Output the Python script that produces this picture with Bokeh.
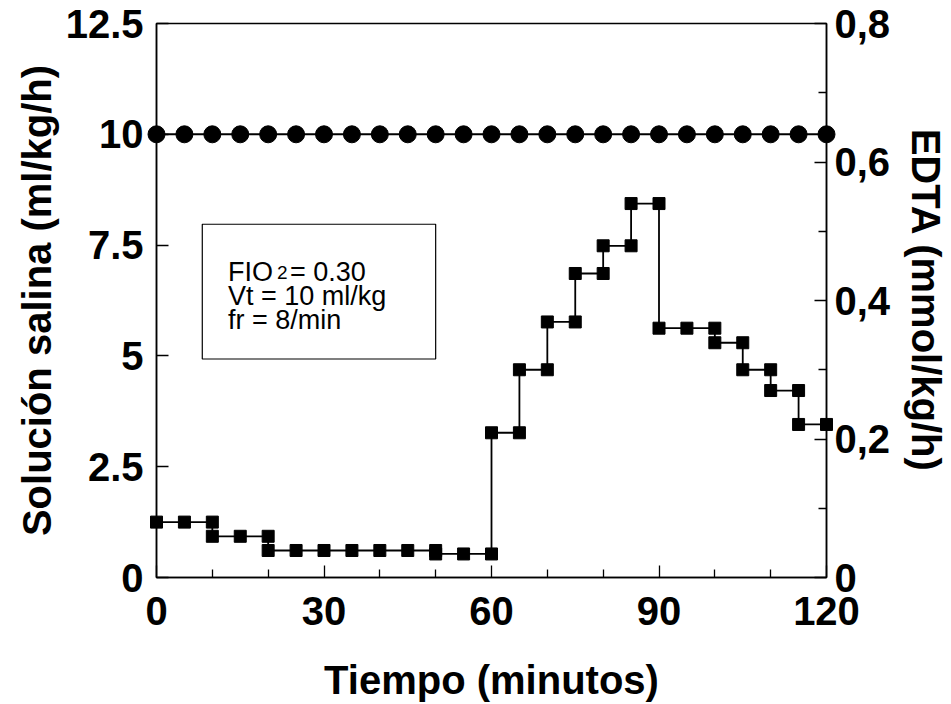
from bokeh.plotting import figure
from bokeh.models import Range1d, LinearAxis, FixedTicker, BoxAnnotation, Label
from bokeh.embed import file_html
from bokeh.resources import INLINE

# ---- data ----
# saline infusion (ml/kg/h), left axis
saline_t = [0, 5, 10, 15, 20, 25, 30, 35, 40, 45, 50, 55, 60,
            65, 70, 75, 80, 85, 90, 95, 100, 105, 110, 115, 120]
saline_v = [10, 10, 10, 10, 10, 10, 10, 10, 10, 10, 10, 10, 10,
            10, 10, 10, 10, 10, 10, 10, 10, 10, 10, 10, 10]

# EDTA infusion (mmol/kg/h), right axis, stepped
edta_t = [0, 5, 10, 10, 15, 20, 20, 25, 30, 35, 40, 45, 50, 50, 55, 60,
          60, 65, 65, 70, 70, 75, 75, 80, 80, 85, 85, 90,
          90, 95, 100, 100, 105, 105, 110, 110, 115, 115, 120]
edta_v = [0.080, 0.080, 0.080, 0.0595, 0.0595, 0.0595, 0.039, 0.039, 0.039, 0.039,
          0.039, 0.039, 0.039, 0.034, 0.034, 0.034,
          0.209, 0.209, 0.300, 0.300, 0.369, 0.369, 0.439, 0.439, 0.479, 0.479,
          0.540, 0.540,
          0.360, 0.360, 0.360, 0.339, 0.339, 0.300, 0.300, 0.270, 0.270, 0.221, 0.221]

x_ticks = [0, 30, 60, 90, 120]
x_minor = [10, 20, 40, 50, 70, 80, 100, 110]
left_ticks = [0, 2.5, 5, 7.5, 10, 12.5]
left_labels = ["0", "2.5", "5", "7.5", "10", "12.5"]
right_ticks = [0, 0.2, 0.4, 0.6, 0.8]
right_minor = [0.1, 0.3, 0.5, 0.7]
right_labels = ["0", "0,2", "0,4", "0,6", "0,8"]

note_lines = ["Vt = 10 ml/kg", "fr = 8/min"]

FONT = "Liberation Sans"
TICK_SIZE = "40px"
TITLE_SIZE = "40px"

p = figure(width=951, height=704, output_backend="svg", toolbar_location=None,
           x_range=Range1d(0, 120), y_range=Range1d(0, 12.5),
           min_border_left=156, min_border_right=122,
           min_border_top=23, min_border_bottom=126)
p.extra_y_ranges = {"edta": Range1d(0, 0.8)}

p.xgrid.visible = False
p.ygrid.visible = False
p.outline_line_color = "black"
p.outline_line_width = 1.5
p.background_fill_color = "white"
p.border_fill_color = "white"

def style_axis(ax, label_standoff):
    ax.axis_line_color = "black"
    ax.axis_line_width = 1.5
    ax.major_tick_line_color = "black"
    ax.minor_tick_line_color = "black"
    ax.major_tick_line_width = 1.3
    ax.minor_tick_line_width = 1.3
    ax.major_tick_in = 12
    ax.major_tick_out = 0
    ax.minor_tick_in = 8
    ax.minor_tick_out = 0
    ax.major_label_text_font = FONT
    ax.major_label_text_font_style = "bold"
    ax.major_label_text_font_size = TICK_SIZE
    ax.major_label_text_color = "black"
    ax.major_label_standoff = label_standoff
    ax.axis_label_text_font = FONT
    ax.axis_label_text_font_style = "bold"
    ax.axis_label_text_font_size = TITLE_SIZE
    ax.axis_label_text_color = "black"

xa = p.xaxis[0]
xa.ticker = FixedTicker(ticks=x_ticks, minor_ticks=x_minor)
xa.axis_label = "Tiempo (minutos)"
style_axis(xa, 19)
xa.axis_label_standoff = 30

ya = p.yaxis[0]
ya.ticker = FixedTicker(ticks=left_ticks, minor_ticks=[])
ya.major_label_overrides = dict(zip(left_ticks, left_labels))
ya.axis_label = "Solución salina (ml/kg/h)"
style_axis(ya, 13)
ya.axis_label_standoff = 4

ra = LinearAxis(y_range_name="edta")
ra.ticker = FixedTicker(ticks=right_ticks, minor_ticks=right_minor)
ra.major_label_overrides = dict(zip(right_ticks, right_labels))
ra.axis_label = "EDTA (mmol/kg/h)"
style_axis(ra, 8)
ra.axis_label_standoff = 11
p.add_layout(ra, "right")

# saline series
p.line(saline_t, saline_v, line_color="black", line_width=2)
p.scatter(saline_t, saline_v, marker="circle", size=17, fill_color="black",
          line_color="black", level="overlay")

# EDTA series
p.line(edta_t, edta_v, y_range_name="edta", line_color="black", line_width=1.8)
p.scatter(edta_t, edta_v, y_range_name="edta", marker="square", size=12,
          fill_color="black", line_color="black", level="overlay")

# annotation box
p.add_layout(BoxAnnotation(left=8.2, right=50, bottom=4.93, top=7.97,
                           fill_alpha=0, line_color="black", line_width=1.2,
                           line_alpha=1))

def txt(x, y, s, size="27px", dx=0, dy=0):
    p.add_layout(Label(x=x, y=y, text=s, x_offset=dx, y_offset=dy,
                       text_font=FONT, text_font_size=size, text_color="black",
                       text_align="left", text_baseline="alphabetic"))

tx = 12.8
txt(tx, 6.90, "FIO")
txt(tx, 6.90, "2", size="19px", dx=49, dy=-1)
txt(tx, 6.90, "= 0.30", dx=62)
txt(tx, 6.35, note_lines[0])
txt(tx, 5.81, note_lines[1])

open("out.html", "w").write(file_html(p, INLINE))
